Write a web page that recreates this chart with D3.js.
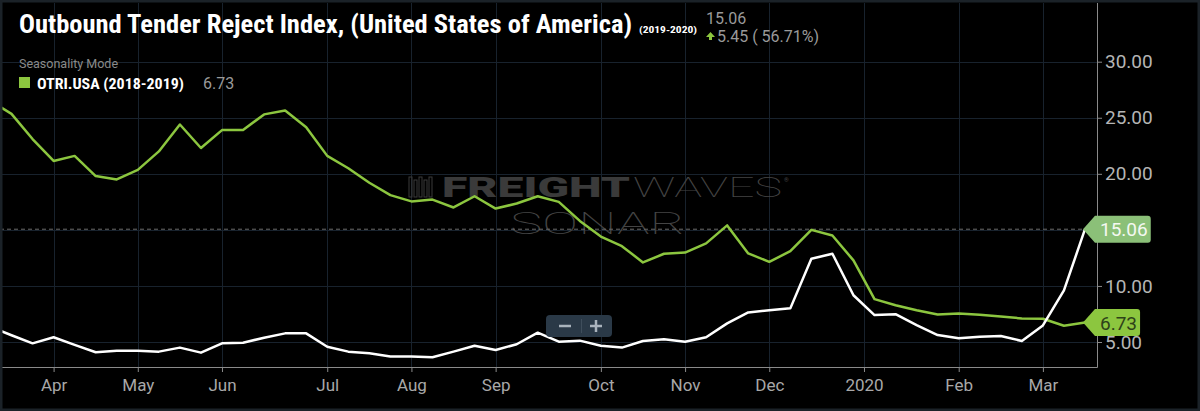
<!DOCTYPE html>
<html>
<head>
<meta charset="utf-8">
<script src="https://cdn.jsdelivr.net/npm/d3@7"></script>
<style>
  html, body { margin: 0; padding: 0; background: #000; }
  svg { display: block; font-family: Roboto, "Noto Sans", sans-serif; }
</style>
</head>
<body>
<div id="chart"></div>
<script>
// weekly readings, the first one sits just left of the visible window
const otri2018 = [26.5, 25.35, 23.1, 21.15, 21.6, 19.8, 19.5, 20.35, 22.0, 24.4,
  22.3, 23.9, 23.9, 25.3, 25.65, 24.15, 21.6, 20.5, 19.2, 18.1,
  17.54, 17.7, 17.0, 18.0, 16.9, 17.35, 18.0, 17.5, 15.8, 14.4,
  13.55, 12.1, 12.87, 12.98, 13.8, 15.4, 12.9, 12.15, 13.1, 15.0,
  14.5, 12.28, 8.82, 8.28, 7.84, 7.46, 7.55, 7.42, 7.27, 7.1,
  7.07, 6.45, 6.73];
const otri2019 = [6.35, 5.6, 4.88, 5.42, 4.75, 4.09, 4.23, 4.23, 4.14, 4.5,
  4.05, 4.88, 4.94, 5.38, 5.77, 5.77, 4.58, 4.14, 4.0, 3.7,
  3.7, 3.64, 4.14, 4.67, 4.29, 4.8, 5.83, 5.03, 5.12, 4.67,
  4.5, 5.09, 5.24, 5.03, 5.42, 6.66, 7.64, 7.84, 8.0, 12.43,
  12.87, 9.17, 7.4, 7.48, 6.5, 5.62, 5.33, 5.47, 5.53, 5.09,
  6.48, 9.61, 15.06];

// month ticks sit on the week index of the first reading of the month
const monthTicks = [2, 6, 10, 15, 19, 23, 28, 32, 36, 40.5, 45, 49];
const monthLabels = ["Apr", "May", "Jun", "Jul", "Aug", "Sep", "Oct", "Nov", "Dec", "2020", "Feb", "Mar"];
const yTicks = [5, 10, 20, 25, 30];

const W = 1200, H = 411;
const plot = {left: 0, right: 1097, top: 3, bottom: 367};

const svg = d3.select("#chart")
  .append("svg")
    .attr("width", W)
    .attr("height", H);

svg.append("rect").attr("width", W).attr("height", H).attr("fill", "#000");

// scales
const x = d3.scaleLinear().domain([0, 51]).range([11.5, 1085]);
const y = d3.scaleLinear().domain([5, 30]).range([342, 61.7]);

svg.append("clipPath").attr("id", "clip")
  .append("rect")
    .attr("x", plot.left).attr("y", plot.top)
    .attr("width", plot.right - plot.left).attr("height", plot.bottom - plot.top);

// grid
const grid = svg.append("g").attr("stroke", "#18222d").attr("stroke-width", 1);
grid.selectAll("line.h")
  .data(y.ticks(5))
  .join("line")
    .attr("class", "h")
    .attr("x1", plot.left).attr("x2", plot.right)
    .attr("y1", d => Math.round(y(d)) + 0.5).attr("y2", d => Math.round(y(d)) + 0.5);
grid.selectAll("line.v")
  .data(monthTicks)
  .join("line")
    .attr("class", "v")
    .attr("y1", plot.top).attr("y2", plot.bottom)
    .attr("x1", d => Math.round(x(d)) + 0.5).attr("x2", d => Math.round(x(d)) + 0.5);

// watermark
const wm = svg.append("g").attr("fill", "#3a3a3a");
[0, 5, 10, 15, 20].forEach((dx, i) => {
  wm.append("rect")
    .attr("x", 409 + dx).attr("y", 177 + (i % 2) * 3)
    .attr("width", 3).attr("height", 20 - (i % 2) * 3)
    .attr("fill", "none").attr("stroke", "#3a3a3a").attr("stroke-width", 1);
});
wm.append("text")
  .attr("x", 442).attr("y", 197)
  .attr("font-size", 27).attr("font-weight", 900)
  .attr("textLength", 188).attr("lengthAdjust", "spacingAndGlyphs")
  .text("FREIGHT");
wm.append("text")
  .attr("x", 633).attr("y", 197)
  .attr("font-size", 27).attr("font-weight", 100).attr("fill", "#444")
  .attr("textLength", 149).attr("lengthAdjust", "spacingAndGlyphs")
  .text("WAVES");
wm.append("text")
  .attr("x", 784).attr("y", 182)
  .attr("font-size", 6).attr("fill", "#444")
  .text("®");
wm.append("text")
  .attr("x", 510).attr("y", 234)
  .attr("font-size", 31).attr("font-weight", 100).attr("fill", "#444")
  .attr("textLength", 175).attr("lengthAdjust", "spacingAndGlyphs")
  .text("SONAR");

// last value reference line
const last = otri2019[otri2019.length - 1];
const prev = otri2019[otri2019.length - 2];
svg.append("line")
  .attr("x1", plot.left).attr("x2", x(51) - 2)
  .attr("y1", y(last)).attr("y2", y(last))
  .attr("stroke", "#6b6b6b").attr("stroke-dasharray", "4,3");

// lines
const line = d3.line()
  .x((d, i) => x(i - 1))
  .y(d => y(d));

const lines = svg.append("g").attr("clip-path", "url(#clip)");
lines.append("path")
  .datum(otri2018)
  .attr("fill", "none")
  .attr("stroke", "#8cc63f")
  .attr("stroke-width", 2.5)
  .attr("stroke-linejoin", "round")
  .attr("d", line);
lines.append("path")
  .datum(otri2019)
  .attr("fill", "none")
  .attr("stroke", "#ffffff")
  .attr("stroke-width", 2.5)
  .attr("stroke-linejoin", "round")
  .attr("d", line);

// axes
const axisColor = "#8a8a8a";
const yAxis = svg.append("g")
  .attr("transform", `translate(${plot.right},0)`)
  .call(d3.axisRight(y).tickValues(yTicks).tickSize(5).tickPadding(3).tickFormat(d3.format(".2f")));
yAxis.select(".domain").remove();
yAxis.selectAll("line").attr("stroke", axisColor);
yAxis.selectAll("text")
  .attr("fill", "#b5b5b5").attr("font-size", 19).attr("font-family", "Roboto, sans-serif");

const xAxis = svg.append("g")
  .attr("transform", `translate(0,${plot.bottom})`)
  .call(d3.axisBottom(x).tickValues(monthTicks).tickSize(5).tickPadding(7)
    .tickFormat((d, i) => monthLabels[i]));
xAxis.select(".domain").remove();
xAxis.selectAll("line").attr("stroke", axisColor);
xAxis.selectAll("text")
  .attr("fill", "#a8a8a8").attr("font-size", 17).attr("font-family", "Roboto, sans-serif");

svg.append("line")
  .attr("x1", plot.right + 0.5).attr("x2", plot.right + 0.5)
  .attr("y1", plot.top).attr("y2", plot.bottom + 0.5)
  .attr("stroke", axisColor);
svg.append("line")
  .attr("x1", plot.left).attr("x2", plot.right + 0.5)
  .attr("y1", plot.bottom + 0.5).attr("y2", plot.bottom + 0.5)
  .attr("stroke", axisColor);

// price tags on the right axis
function tag(value, fill, textFill) {
  const yc = y(value);
  const g = svg.append("g");
  const t = g.append("text")
    .attr("x", plot.right + 3).attr("y", yc + 7)
    .attr("font-size", 19).attr("fill", textFill)
    .text(value.toFixed(2));
  const right = plot.right + 3 + t.node().getComputedTextLength() + 3;
  const p = d3.path();
  p.moveTo(x(51) - 2, yc);
  p.lineTo(plot.right - 2, yc - 13.5);
  p.lineTo(right - 3, yc - 13.5);
  p.quadraticCurveTo(right, yc - 13.5, right, yc - 10.5);
  p.lineTo(right, yc + 10.5);
  p.quadraticCurveTo(right, yc + 13.5, right - 3, yc + 13.5);
  p.lineTo(plot.right - 2, yc + 13.5);
  p.closePath();
  g.insert("path", "text").attr("d", p.toString()).attr("fill", fill);
}
tag(otri2018[otri2018.length - 1], "#8cc63f", "#2e4219");
tag(last, "#8bc078", "#f4f8f2");

// zoom control
const zc = svg.append("g");
zc.append("rect").attr("x", 546).attr("y", 315).attr("width", 66).attr("height", 22)
  .attr("rx", 4).attr("fill", "#2a3947");
zc.append("line").attr("x1", 581.5).attr("x2", 581.5).attr("y1", 319).attr("y2", 333)
  .attr("stroke", "#3f4e5c");
const iconColor = "#a9b3bc";
zc.append("line").attr("x1", 559).attr("x2", 571).attr("y1", 326).attr("y2", 326)
  .attr("stroke", iconColor).attr("stroke-width", 2.5);
zc.append("line").attr("x1", 590).attr("x2", 602).attr("y1", 326).attr("y2", 326)
  .attr("stroke", iconColor).attr("stroke-width", 2.5);
zc.append("line").attr("x1", 596).attr("x2", 596).attr("y1", 320).attr("y2", 332)
  .attr("stroke", iconColor).attr("stroke-width", 2.5);

// header
const condensed = '"Roboto Condensed", "Liberation Sans Narrow", "DejaVu Sans Condensed", sans-serif';
const head = svg.append("g");
head.append("text")
  .attr("x", 19).attr("y", 33)
  .attr("font-family", condensed).attr("font-weight", "bold").attr("font-size", 25)
  .attr("fill", "#fff")
  .attr("textLength", 613).attr("lengthAdjust", "spacingAndGlyphs")
  .text("Outbound Tender Reject Index, (United States of America)");
head.append("text")
  .attr("x", 639).attr("y", 33)
  .attr("font-family", condensed).attr("font-weight", "bold").attr("font-size", 9.5)
  .attr("fill", "#fff")
  .attr("textLength", 58).attr("lengthAdjust", "spacingAndGlyphs")
  .text("(2019-2020)");
head.append("text")
  .attr("x", 706).attr("y", 24)
  .attr("font-size", 16).attr("fill", "#9a9a9a")
  .text(last.toFixed(2));
head.append("path")
  .attr("d", "M706,37 L710.5,32 L715,37 Z M709,37 L712,37 L712,40 L709,40 Z")
  .attr("fill", "#8cc63f");
head.append("text")
  .attr("x", 717).attr("y", 42)
  .attr("font-size", 16).attr("fill", "#9a9a9a")
  .text(`${(last - prev).toFixed(2)} ( ${((last - prev) / prev * 100).toFixed(2)}%)`);

head.append("text")
  .attr("x", 19).attr("y", 68)
  .attr("font-size", 12.5).attr("fill", "#8a8a8a")
  .text("Seasonality Mode");
head.append("rect")
  .attr("x", 19).attr("y", 77).attr("width", 11).attr("height", 11)
  .attr("fill", "#8cc63f");
head.append("text")
  .attr("x", 37).attr("y", 89)
  .attr("font-family", condensed).attr("font-weight", "bold").attr("font-size", 14.5)
  .attr("fill", "#fff")
  .attr("textLength", 147).attr("lengthAdjust", "spacingAndGlyphs")
  .text("OTRI.USA (2018-2019)");
head.append("text")
  .attr("x", 203).attr("y", 89)
  .attr("font-size", 16).attr("fill", "#9a9a9a")
  .text(otri2018[otri2018.length - 1].toFixed(2));

// outer frame
svg.append("rect")
  .attr("x", 1).attr("y", 1).attr("width", W - 2).attr("height", H - 2)
  .attr("fill", "none").attr("stroke", "#1b2228").attr("stroke-width", 3);
</script>
</body>
</html>
